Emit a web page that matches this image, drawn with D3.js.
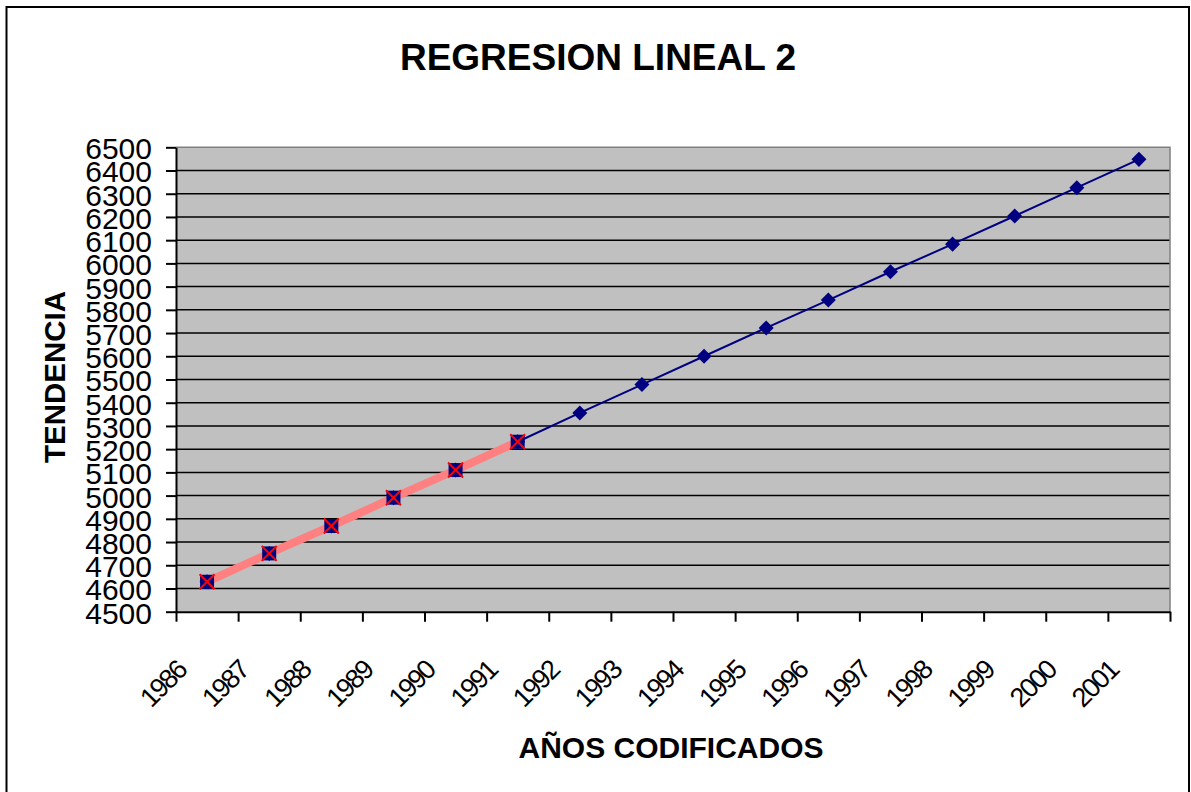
<!DOCTYPE html>
<html>
<head>
<meta charset="utf-8">
<script src="https://cdn.jsdelivr.net/npm/d3@7"></script>
<style>
  body { margin: 0; background: #fff; }
  svg { display: block; font-family: "Liberation Sans", Arial, sans-serif; }
</style>
</head>
<body>
<div id="chart"></div>
<script>
// data
const years = ["1986", "1987", "1988", "1989", "1990", "1991", "1992", "1993",
               "1994", "1995", "1996", "1997", "1998", "1999", "2000", "2001"];
const tendencia = [4629, 4751, 4869, 4991, 5110, 5232, 5356, 5478,
                   5600, 5722, 5842, 5964, 6083, 6204, 6326, 6448];
// observed years (first six)
const observados = [4629, 4751, 4869, 4991, 5110, 5232];
const yTicks = d3.range(4500, 6501, 100);

const W = 1191, H = 792;
const plot = { left: 176, top: 147.3, right: 1170, bottom: 611.7 };

const svg = d3.select("#chart").append("svg")
    .attr("width", W)
    .attr("height", H);

// outer chart border
svg.append("rect")
    .attr("x", 6.5).attr("y", 7)
    .attr("width", 1182.5).attr("height", 792)
    .attr("fill", "#fff")
    .attr("stroke", "#000")
    .attr("stroke-width", 2);

const x = d3.scaleBand().domain(years).range([plot.left, plot.right]);
const xEdge = d3.scaleLinear().domain([0, years.length]).range([plot.left, plot.right]);
const y = d3.scaleLinear().domain([4500, 6500]).range([plot.bottom, plot.top]);
const cx = d => x(d) + x.bandwidth() / 2;

// plot area
svg.append("rect")
    .attr("x", plot.left).attr("y", plot.top)
    .attr("width", plot.right - plot.left)
    .attr("height", plot.bottom - plot.top)
    .attr("fill", "#c0c0c0");

// gridlines
svg.append("g")
    .selectAll("line")
    .data(yTicks.slice(1, -1))
    .enter().append("line")
    .attr("x1", plot.left).attr("x2", plot.right)
    .attr("y1", d => y(d)).attr("y2", d => y(d))
    .attr("stroke", "#000")
    .attr("stroke-width", 1.5);

// gray border top and right
svg.append("path")
    .attr("d", "M" + plot.left + "," + plot.top + "H" + plot.right + "V" + plot.bottom)
    .attr("fill", "none")
    .attr("stroke", "#808080")
    .attr("stroke-width", 1.5);

// y axis
const yAxis = svg.append("g")
    .attr("transform", "translate(" + plot.left + ",0)")
    .call(d3.axisLeft(y).tickValues(yTicks).tickFormat(d3.format("d"))
        .tickSize(10).tickSizeOuter(0).tickPadding(14));
yAxis.select(".domain").attr("stroke-width", 2);
yAxis.selectAll(".tick line").attr("stroke-width", 2);
yAxis.selectAll("text")
    .attr("font-size", 30)
    .attr("font-family", "Liberation Sans, Arial, sans-serif")
    .attr("fill", "#000")
    .attr("dy", "0.38em");

// x axis, ticks between categories
const xAxis = svg.append("g")
    .attr("transform", "translate(0," + plot.bottom + ")")
    .call(d3.axisBottom(xEdge).tickValues(d3.range(years.length + 1))
        .tickSize(10).tickSizeOuter(0).tickFormat(""));
xAxis.select(".domain").attr("stroke-width", 2);
xAxis.selectAll(".tick line").attr("stroke-width", 2);

svg.append("g")
    .selectAll("text")
    .data(years)
    .enter().append("text")
    .attr("transform", d => "translate(" + (cx(d) - 19) + ",672) rotate(-45)")
    .attr("text-anchor", "end")
    .attr("font-size", 27)
    .attr("letter-spacing", -2)
    .text(d => d);

// trend line
const line = d3.line()
    .x((d, i) => cx(years[i]))
    .y(d => y(d));

svg.append("path")
    .datum(tendencia)
    .attr("d", line)
    .attr("fill", "none")
    .attr("stroke", "#000080")
    .attr("stroke-width", 2);

svg.append("g")
    .selectAll("path")
    .data(tendencia)
    .enter().append("path")
    .attr("d", d3.symbol(d3.symbolSquare, 113))
    .attr("transform", (d, i) => "translate(" + cx(years[i]) + "," + y(d) + ") rotate(45)")
    .attr("fill", "#000080");

// observed series
svg.append("path")
    .datum(observados)
    .attr("d", line)
    .attr("fill", "none")
    .attr("stroke", "#ff8080")
    .attr("stroke-width", 8);

svg.append("g")
    .selectAll("path")
    .data(observados)
    .enter().append("path")
    .attr("d", d3.symbol(d3.symbolSquare, 196))
    .attr("transform", (d, i) => "translate(" + cx(years[i]) + "," + y(d) + ")")
    .attr("fill", "#000080");

svg.append("g")
    .selectAll("path")
    .data(observados)
    .enter().append("path")
    .attr("d", d3.symbol(d3.symbolX, 148))
    .attr("transform", (d, i) => "translate(" + cx(years[i]) + "," + y(d) + ")")
    .attr("fill", "none")
    .attr("stroke", "#ff0000")
    .attr("stroke-width", 2);

// titles
svg.append("text")
    .attr("x", 598).attr("y", 70)
    .attr("text-anchor", "middle")
    .attr("font-size", 37)
    .attr("font-weight", "bold")
    .text("REGRESION LINEAL 2");

svg.append("text")
    .attr("x", 671).attr("y", 758)
    .attr("text-anchor", "middle")
    .attr("font-size", 30)
    .attr("font-weight", "bold")
    .text("AÑOS CODIFICADOS");

svg.append("text")
    .attr("transform", "translate(65,377) rotate(-90)")
    .attr("text-anchor", "middle")
    .attr("font-size", 29.5)
    .attr("font-weight", "bold")
    .text("TENDENCIA");
</script>
</body>
</html>
